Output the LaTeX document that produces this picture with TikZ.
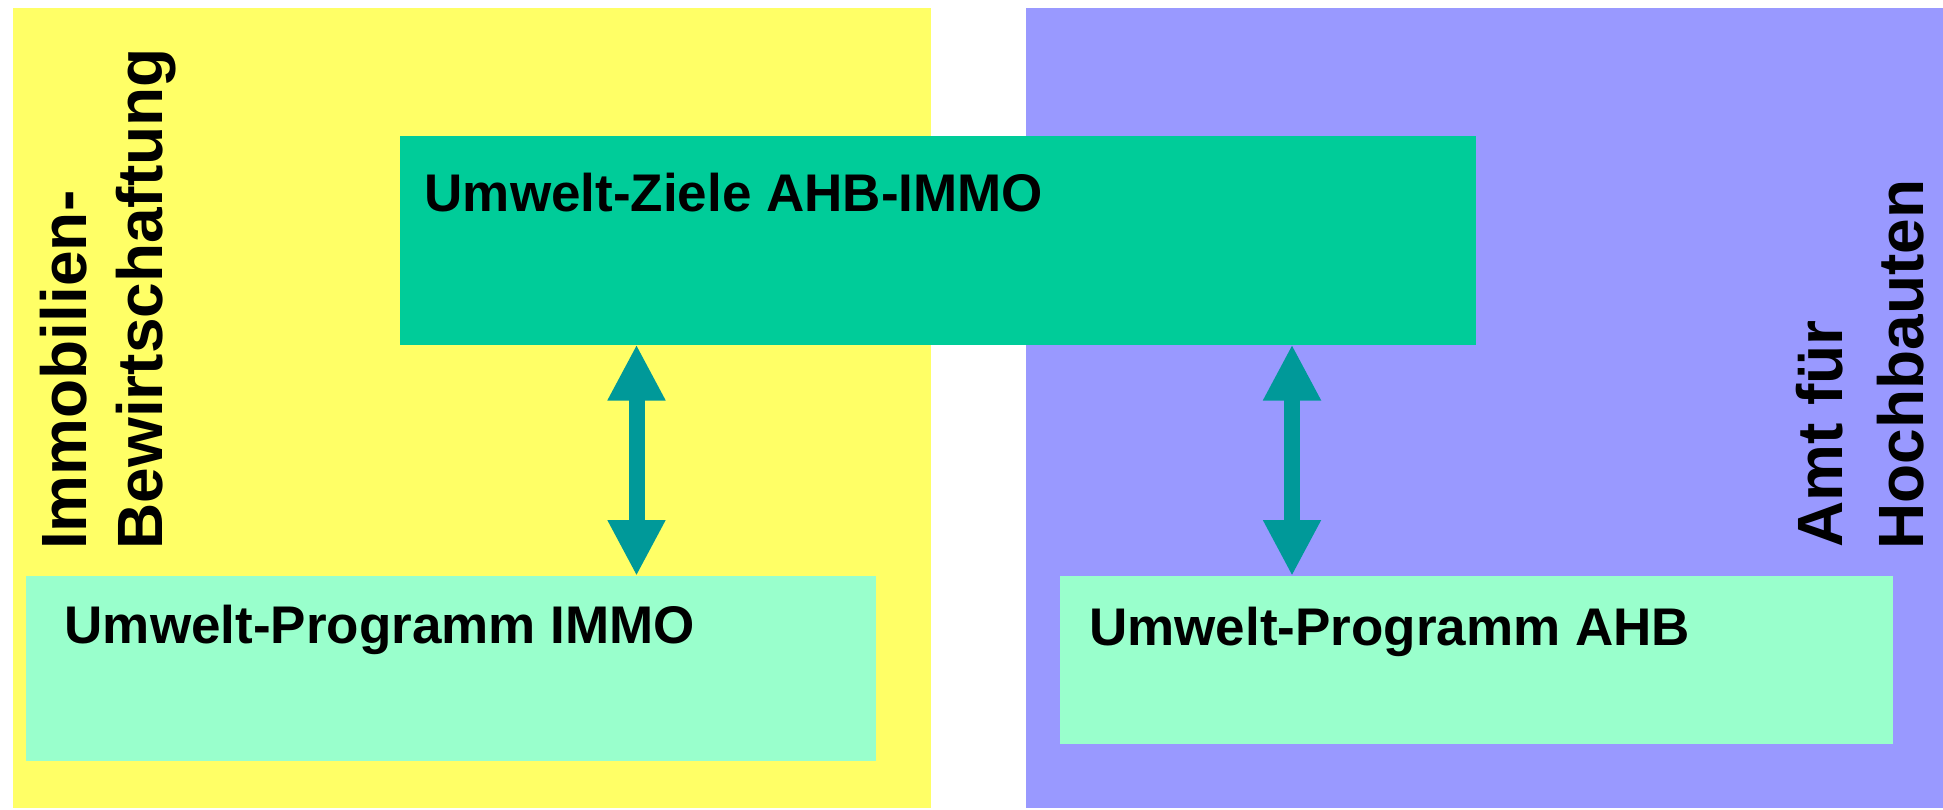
\documentclass[tikz,border=0pt]{standalone}
\usepackage{fontspec}
\setmainfont{Liberation Sans}
\usetikzlibrary{arrows.meta}
\definecolor{cyel}{HTML}{FFFF66}
\definecolor{cblue}{HTML}{9999FF}
\definecolor{cdark}{HTML}{00CC99}
\definecolor{clight}{HTML}{99FFCC}
\definecolor{cteal}{HTML}{009999}
\tikzset{
  area/.style={inner sep=0pt, outer sep=0pt, anchor=north west, draw=none},
  lbl/.style={inner sep=0pt, anchor=base west, font=\bfseries\fontsize{53}{64}\selectfont},
  vlbl/.style={inner sep=0pt, anchor=base west, rotate=90, font=\bfseries\fontsize{64}{76}\selectfont},
  link/.style={cteal, line width=16pt, {Triangle[length=56pt,width=54pt]}-{Triangle[length=56pt,width=54pt]}}
}
\begin{document}
\begin{tikzpicture}[x=1pt,y=-1pt]
\useasboundingbox (0,0) rectangle (1943,810);
\node[area, fill=cyel, minimum width=918pt, minimum height=800pt] (yel) at (13,8) {};
\node[area, fill=cblue, minimum width=917pt, minimum height=800pt] (blu) at (1026,8) {};
\node[area, fill=cdark, minimum width=1076pt, minimum height=208.5pt] (ziele) at (400,136) {};
\node[area, fill=clight, minimum width=850.5pt, minimum height=185pt] (progL) at (25.5,576) {};
\node[area, fill=clight, minimum width=833pt, minimum height=168pt] (progR) at (1060,576) {};
\node[lbl] (tZiele) at (424.5,212) {Umwelt-Ziele AHB-IMMO};
\node[lbl] (tProgL) at (64.5,643) {Umwelt-Programm IMMO};
\node[lbl] (tProgR) at (1089,645) {Umwelt-Programm AHB};
\node[vlbl] (tImmoA) at (86.7,550) {Immobilien-};
\node[vlbl] (tImmoB) at (162.7,549.7) {Bewirtschaftung};
\node[vlbl] (tAhbA) at (1842.3,548) {Amt für};
\node[vlbl] (tAhbB) at (1923.3,549.7) {Hochbauten};
\coordinate (aL) at (636.5,0);
\coordinate (aR) at (1292,0);
\draw[link] (ziele.south -| aL) -- (progL.north -| aL);
\draw[link] (ziele.south -| aR) -- (progR.north -| aR);
\end{tikzpicture}
\end{document}
